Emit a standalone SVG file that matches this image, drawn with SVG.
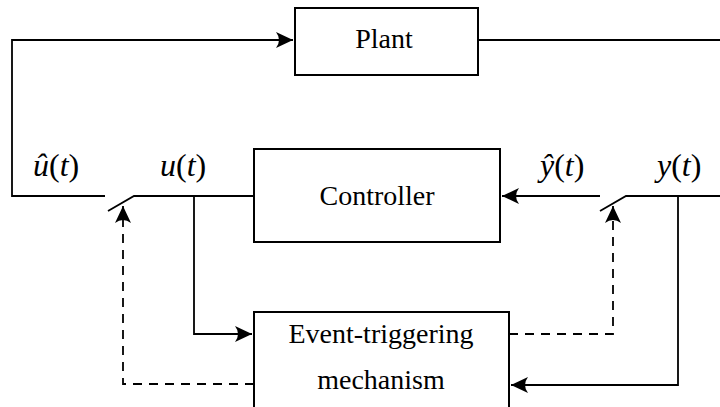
<svg xmlns="http://www.w3.org/2000/svg" width="720" height="407" viewBox="0 0 720 407">
<style>
.box{fill:#fff;stroke:#000;stroke-width:2}
.lbl{font-size:28px;fill:#000;text-anchor:middle}
.math{font-size:32px;fill:#000}
.it{font-style:italic}
.w{fill:none;stroke:#000;stroke-width:1.8}
.d{fill:none;stroke:#000;stroke-width:1.8;stroke-dasharray:9 7}
</style>
<defs>
<marker id="arr" viewBox="-18 -9 19 18" refX="0" refY="0" markerWidth="19" markerHeight="18" orient="auto" markerUnits="userSpaceOnUse">
<path d="M0,0 L-17,-8 Q-11,0 -17,8 Z" fill="#000" stroke="none"/>
</marker>
</defs>
<g id="plant">
<rect class="box" x="295" y="8" width="183" height="67"/>
<text class="lbl" font-family="Liberation Serif, Times New Roman, serif" x="384" y="48">Plant</text>
</g>
<g id="controller">
<rect class="box" x="254" y="149" width="246" height="93"/>
<text class="lbl" font-family="Liberation Serif, Times New Roman, serif" x="377" y="205">Controller</text>
</g>
<g id="event">
<rect class="box" x="254" y="312" width="255" height="96"/>
<text class="lbl" font-family="Liberation Serif, Times New Roman, serif" x="381" y="343">Event-triggering</text>
<text class="lbl" font-family="Liberation Serif, Times New Roman, serif" x="381" y="389">mechanism</text>
</g>
<g id="connectors">
<path class="w" d="M105,196 H12 V40 H293" marker-end="url(#arr)"/>
<path class="w" d="M478,40 H720"/>
<path class="w" d="M108,211 L134,196 H254"/>
<path class="w" d="M194,196 V334 H252" marker-end="url(#arr)"/>
<path class="w" d="M600,196 H502" marker-end="url(#arr)"/>
<path class="w" d="M600,211 L626,196 H720"/>
<path class="w" d="M678,196 V385 H511" marker-end="url(#arr)"/>
<path class="d" d="M254,384 H123 V206" marker-end="url(#arr)"/>
<path class="d" d="M509,334 H613 V206" marker-end="url(#arr)"/>
</g>
<g id="labels" font-family="Liberation Serif, Times New Roman, serif">
<text class="math" x="33" y="176"><tspan class="it">û</tspan>(<tspan class="it">t</tspan>)</text>
<text class="math" x="160" y="176"><tspan class="it">u</tspan>(<tspan class="it">t</tspan>)</text>
<text class="math" x="540" y="176"><tspan class="it">ŷ</tspan>(<tspan class="it">t</tspan>)</text>
<text class="math" x="657" y="176"><tspan class="it">y</tspan>(<tspan class="it">t</tspan>)</text>
</g>
</svg>
